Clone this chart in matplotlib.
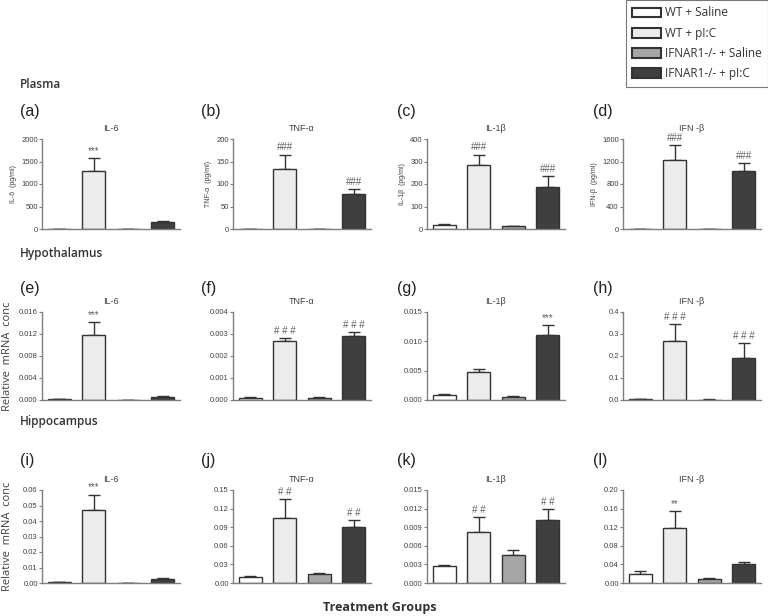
import matplotlib.pyplot as plt
from matplotlib.patches import Patch
from matplotlib.ticker import FormatStrFormatter, MultipleLocator

groups = ["WT + Saline", "WT + pI:C", "IFNAR1-/- + Saline", "IFNAR1-/- + pI:C"]
bar_colors = ["#ffffff", "#ececec", "#a6a6a6", "#3f3f3f"]

# plasma (pg/ml)
pl_il6 = [6, 1300, 6, 160]
pl_il6_err = [2, 270, 2, 20]
pl_tnf = [0.5, 133, 0.5, 77]
pl_tnf_err = [0, 32, 0, 11]
pl_il1b = [18, 283, 12, 187]
pl_il1b_err = [4, 47, 3, 48]
pl_ifnb = [0, 1220, 0, 1030]
pl_ifnb_err = [0, 270, 0, 140]

# hypothalamus (relative mRNA)
hy_il6 = [0.0001, 0.0119, 0.00005, 0.0006]
hy_il6_err = [0.00003, 0.0023, 0.00002, 0.0002]
hy_tnf = [0.0001, 0.0027, 0.0001, 0.0029]
hy_tnf_err = [0.00002, 0.00012, 0.00002, 0.0002]
hy_il1b = [0.0008, 0.0047, 0.0005, 0.011]
hy_il1b_err = [0.0003, 0.0006, 0.0002, 0.0017]
hy_ifnb = [0.003, 0.27, 0.002, 0.19]
hy_ifnb_err = [0.001, 0.075, 0.001, 0.07]

# hippocampus (relative mRNA)
hc_il6 = [0.0005, 0.047, 0.0002, 0.0025]
hc_il6_err = [0.0001, 0.010, 0.0001, 0.001]
hc_tnf = [0.010, 0.105, 0.014, 0.091]
hc_tnf_err = [0.001, 0.030, 0.002, 0.010]
hc_il1b = [0.0028, 0.0083, 0.0045, 0.0101]
hc_il1b_err = [0.0001, 0.0023, 0.0009, 0.0018]
hc_ifnb = [0.019, 0.118, 0.008, 0.040]
hc_ifnb_err = [0.006, 0.037, 0.002, 0.005]

# (letter, title, ylabel, means, errs, ymax, step, fmt, marks)
panels = [
    ("(a)", "IL-6", "IL-6  (pg/ml)", pl_il6, pl_il6_err, 2000, 500, "%d", {1: "***"}),
    ("(b)", "TNF-α", "TNF-α  (pg/ml)", pl_tnf, pl_tnf_err, 200, 50, "%d", {1: "###", 3: "###"}),
    ("(c)", "IL-1β", "IL-1β  (pg/ml)", pl_il1b, pl_il1b_err, 400, 100, "%d", {1: "###", 3: "###"}),
    ("(d)", "IFN -β", "IFN-β  (pg/ml)", pl_ifnb, pl_ifnb_err, 1600, 400, "%d", {1: "###", 3: "###"}),
    ("(e)", "IL-6", "Relative  mRNA  conc", hy_il6, hy_il6_err, 0.016, 0.004, "%.3f", {1: "***"}),
    ("(f)", "TNF-α", None, hy_tnf, hy_tnf_err, 0.004, 0.001, "%.3f", {1: "# # #", 3: "# # #"}),
    ("(g)", "IL-1β", None, hy_il1b, hy_il1b_err, 0.015, 0.005, "%.3f", {3: "***"}),
    ("(h)", "IFN -β", None, hy_ifnb, hy_ifnb_err, 0.4, 0.1, "%.1f", {1: "# # #", 3: "# # #"}),
    ("(i)", "IL-6", "Relative  mRNA  conc", hc_il6, hc_il6_err, 0.06, 0.01, "%.2f", {1: "***"}),
    ("(j)", "TNF-α", None, hc_tnf, hc_tnf_err, 0.15, 0.03, "%.2f", {1: "# #", 3: "# #"}),
    ("(k)", "IL-1β", None, hc_il1b, hc_il1b_err, 0.015, 0.003, "%.3f", {1: "# #", 3: "# #"}),
    ("(l)", "IFN -β", None, hc_ifnb, hc_ifnb_err, 0.20, 0.04, "%.2f", {1: "**"}),
]

W, H = 768, 616
col_left = [42, 233, 427, 623]
row_bottom = [229, 400, 583]
row_height = [90, 88, 93]
ax_width = 138

plt.rcParams["font.family"] = ["Liberation Sans", "DejaVu Sans"]
fig = plt.figure(figsize=(W / 100, H / 100), dpi=100)

spine_col = "#7f7f7f"
text_col = "#404040"
x = range(4)

for i, (letter, title, ylabel, means, errs, ymax, step, fmt, marks) in enumerate(panels):
    r, c = divmod(i, 4)
    ax = fig.add_axes([col_left[c] / W, (H - row_bottom[r]) / H,
                       ax_width / W, row_height[r] / H])
    ax.bar(x, means, width=0.68, color=bar_colors, edgecolor="#333333", linewidth=1, zorder=2)
    ax.errorbar(x, means, yerr=[[0] * 4, errs], fmt="none", ecolor="#333333",
                elinewidth=1, capsize=4, capthick=1, zorder=1)
    for k, s in marks.items():
        ax.text(k, means[k] + errs[k] + ymax * 0.025, s, ha="center", va="bottom",
                fontsize=7, color="#606060")
    ax.set_xlim(-0.5, 3.5)
    ax.set_ylim(0, ymax)
    ax.yaxis.set_major_locator(MultipleLocator(step))
    ax.yaxis.set_major_formatter(FormatStrFormatter(fmt))
    ax.set_xticks([])
    for side in ("top", "right"):
        ax.spines[side].set_visible(False)
    for side in ("left", "bottom"):
        ax.spines[side].set_color(spine_col)
        ax.spines[side].set_linewidth(1)
    ax.tick_params(axis="y", labelsize=5.5, colors=spine_col, labelcolor=text_col,
                   length=2, width=0.8, pad=1)
    ax.set_title(title, fontsize=6.5, color=text_col, pad=6)
    if ylabel is not None:
        if r == 0:
            ax.set_ylabel(ylabel, fontsize=5, color=text_col, labelpad=3)
        else:
            fig.text(8 / W, (H - row_bottom[r] + row_height[r] / 2) / H, ylabel,
                     rotation=90, ha="center", va="center", fontsize=8,
                     color=text_col, family="Open Sans")
    lx = [20, 201, 397, 593][c]
    ly = [112, 288, 460][r]
    fig.text(lx / W, (H - ly) / H, letter, fontsize=11.5, color="#222222",
             ha="left", va="center")

for name, y in [("Plasma", 85), ("Hypothalamus", 253), ("Hippocampus", 422)]:
    fig.text(20 / W, (H - y) / H, name, fontsize=8.5, fontweight="semibold",
             color="#333333", family="Open Sans", va="center")

fig.text(380 / W, (H - 607) / H, "Treatment Groups", fontsize=9, fontweight="bold",
         color="#333333", family="Open Sans", ha="center", va="center")

handles = [Patch(facecolor=col, edgecolor="#333333", linewidth=1.5) for col in bar_colors]
leg = fig.legend(handles, groups, loc="upper right", bbox_to_anchor=(1.0, 1.0),
                 borderaxespad=0, fontsize=8.5, frameon=True, fancybox=False,
                 edgecolor="#555555", handlelength=2.4, handleheight=0.9,
                 labelspacing=0.62, borderpad=0.55, handletextpad=0.35)
leg.get_frame().set_linewidth(0.8)
for t in leg.get_texts():
    t.set_color("#333333")
    t.set_family("Open Sans")

fig.savefig("out.png", dpi=100)
